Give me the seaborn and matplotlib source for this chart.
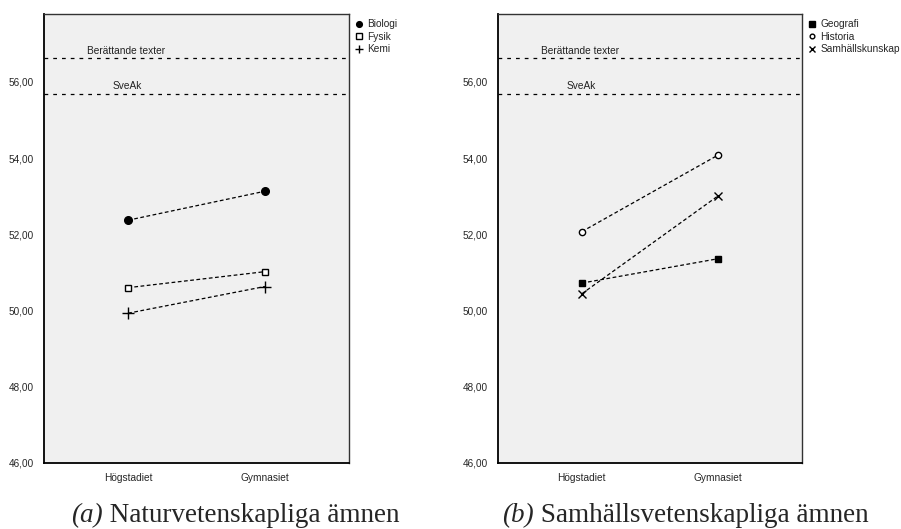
import matplotlib
matplotlib.use("Agg")
import matplotlib.pyplot as plt
from matplotlib.lines import Line2D
import seaborn as sns
import pandas as pd

levels = ["Högstadiet", "Gymnasiet"]

# Panel (a)
nat_subjects = ["Biologi", "Fysik", "Kemi"]
biologi = [52.37, 53.13]
fysik = [50.60, 51.02]
kemi = [49.93, 50.63]

# Panel (b)
sam_subjects = ["Geografi", "Historia", "Samhällskunskap"]
geografi = [50.72, 51.36]
historia = [52.07, 54.08]
samhallskunskap = [50.44, 53.01]

ref_labels = ["Berättande texter", "SveAk"]
ref_values = [56.62, 55.69]

caption_tags = ["(a)", "(b)"]
caption_texts = ["Naturvetenskapliga ämnen", "Samhällsvetenskapliga ämnen"]
yticks = [46, 48, 50, 52, 54, 56]

sns.set_style("white")
plt.rcParams['font.family'] = ['Liberation Sans', 'DejaVu Sans']

W, H = 901, 529
fig = plt.figure(figsize=(W / 100, H / 100), dpi=100)
ax_a = fig.add_axes([44/W, 1-463/H, 305/W, 449/H])
ax_b = fig.add_axes([498/W, 1-463/H, 304/W, 449/H])

styles_a = {
    "Biologi": dict(marker="o", markersize=5.5, markerfacecolor="black", markeredgecolor="black"),
    "Fysik": dict(marker="s", markersize=5, markerfacecolor="white", markeredgecolor="black", markeredgewidth=1.0),
    "Kemi": dict(marker="+", markersize=8, markeredgecolor="black", markeredgewidth=1.0),
}
styles_b = {
    "Geografi": dict(marker="s", markersize=5, markerfacecolor="black", markeredgecolor="black"),
    "Historia": dict(marker="o", markersize=4.5, markerfacecolor="white", markeredgecolor="black", markeredgewidth=1.0),
    "Samhällskunskap": dict(marker="x", markersize=6, markeredgecolor="black", markeredgewidth=1.0),
}

def make_df(names, series):
    rows = []
    for n, vals in zip(names, series):
        for i, v in enumerate(vals):
            rows.append({"subject": n, "level": i, "value": v})
    return pd.DataFrame(rows)

panels = [
    (ax_a, nat_subjects, [biologi, fysik, kemi], styles_a),
    (ax_b, sam_subjects, [geografi, historia, samhallskunskap], styles_b),
]

for k, (ax, names, series, styles) in enumerate(panels):
    ax.set_facecolor("#f0f0f0")
    df = make_df(names, series)
    for n in names:
        sub = df[df["subject"] == n]
        sns.lineplot(data=sub, x="level", y="value", ax=ax, color="black",
                     linewidth=0.9, linestyle=(0, (3, 2)), legend=False)
        ax.plot(sub["level"], sub["value"], linestyle="none", zorder=4, **styles[n])
    for lab, val, xf in zip(ref_labels, ref_values, [0.14, 0.226]):
        ax.axhline(val, color="black", linewidth=0.9, linestyle=(0, (3, 4)))
        ax.text(xf, val + 0.07, lab, transform=ax.get_yaxis_transform(),
                fontsize=7.3, ha="left", va="bottom", color="#222222")
    ax.set_xlim(-0.615, 1.615)
    ax.set_ylim(46, 57.78)
    ax.set_yticks(yticks)
    ax.set_yticklabels([f"{t:.2f}".replace(".", ",") for t in yticks], fontsize=7.2)
    ax.set_xticks([0, 1])
    ax.set_xticklabels(levels, fontsize=7.3)
    ax.tick_params(axis="both", direction="out", length=5, width=1.2, color="black", pad=2)
    ax.set_xlabel("")
    ax.set_ylabel("")
    for s in ["left", "bottom"]:
        ax.spines[s].set_color("black")
        ax.spines[s].set_linewidth(1.3)
    for s in ["top", "right"]:
        ax.spines[s].set_color("#333333")
        ax.spines[s].set_linewidth(1.0)
    leg_styles = {}
    for n in names:
        st = dict(styles[n])
        st["markersize"] = st["markersize"] * 0.75
        leg_styles[n] = st
    handles = [Line2D([], [], linestyle="none", **leg_styles[n]) for n in names]
    ax.legend(handles, names, loc="upper left", bbox_to_anchor=(1.012, 0.993), frameon=False,
              fontsize=7.3, handlelength=0.8, handletextpad=0.45, labelspacing=0.25,
              borderaxespad=0.0, borderpad=0.2)

# Captions: italic tag + upright text, centred on given pixel centres
fig.canvas.draw()
renderer = fig.canvas.get_renderer()
caption_centers = [235.5, 685]
serif = ["Liberation Serif", "DejaVu Serif"]
for tag, txt, cx in zip(caption_tags, caption_texts, caption_centers):
    t1 = fig.text(0, 1 - 522/H, tag, fontsize=19.5, style="italic", family=serif,
                  ha="left", va="baseline")
    t2 = fig.text(0, 1 - 522/H, " " + txt, fontsize=19.5, family=serif,
                  ha="left", va="baseline")
    w1 = t1.get_window_extent(renderer).width
    w2 = t2.get_window_extent(renderer).width
    x0 = cx - (w1 + w2) / 2
    t1.set_x(x0 / W)
    t2.set_x((x0 + w1) / W)

fig.savefig("out.png", dpi=100)
